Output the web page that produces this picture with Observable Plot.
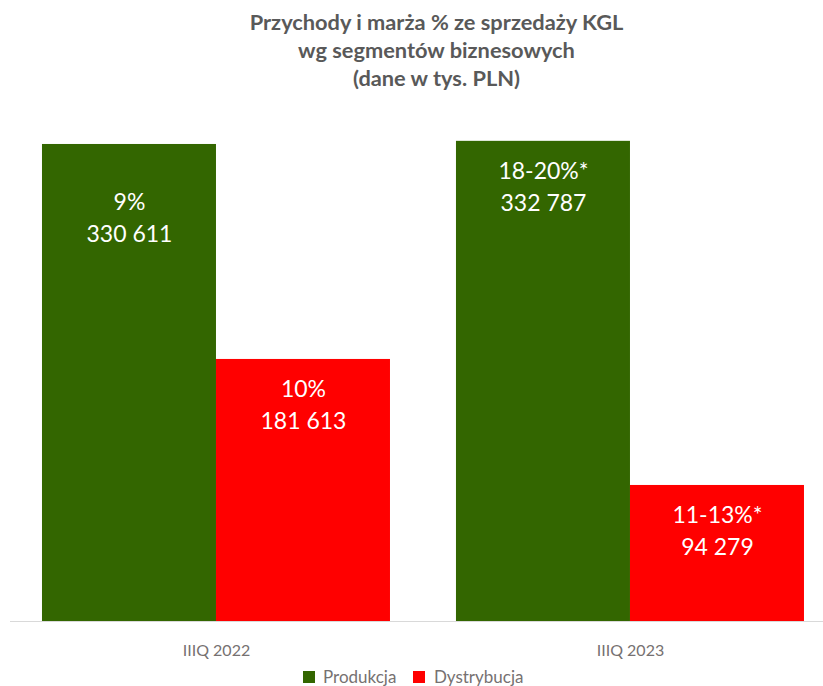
<!DOCTYPE html>
<html><head><meta charset="utf-8">
<script src="https://cdn.jsdelivr.net/npm/d3@7"></script>
<script src="https://cdn.jsdelivr.net/npm/@observablehq/plot@0.6"></script>
<style>
body{margin:0;background:#fff;font-family:Lato,sans-serif;width:823px;overflow:hidden;}
#title{height:100px;box-sizing:border-box;padding-top:8px;padding-left:50px;text-align:center;font-weight:bold;font-size:21.8px;line-height:28px;color:#595959;}
#chart svg{display:block;}
#legend{display:flex;justify-content:center;padding-left:20px;margin-top:-6px;}
</style></head><body>
<div id="title">Przychody i marża % ze sprzedaży KGL<br>wg segmentów biznesowych<br>(dane w tys. PLN)</div>
<div id="chart"></div>
<div id="legend"></div>
<script>
const quarters = ["IIIQ 2022", "IIIQ 2023"];
const segments = ["Produkcja", "Dystrybucja"];
const produkcja = [330611, 332787];
const dystrybucja = [181613, 94279];
const marzaProdukcja = ["9%", "18-20%*"];
const marzaDystrybucja = ["10%", "11-13%*"];
const colors = ["#336600", "#ff0000"];

const data = quarters.flatMap((q, i) => [
  {quarter: q, segment: segments[0], value: produkcja[i], margin: marzaProdukcja[i]},
  {quarter: q, segment: segments[1], value: dystrybucja[i], margin: marzaDystrybucja[i]}
]);

const fmt = d3.formatLocale({decimal: ",", thousands: " ", grouping: [3], currency: ["", " PLN"]}).format(",d");
const label = d => d.margin + "\n" + fmt(d.value);
const isFirst = d => d.quarter === quarters[0] && d.segment === segments[0];

const W = 823, ML = 10;
const textOpts = {fx: "quarter", x: "segment", y: "value", text: label, lineAnchor: "top",
  fill: "white", fontSize: 23, lineHeight: 1.39, fontFamily: "Lato"};

const plot = Plot.plot({
  width: W, height: 566,
  marginTop: 16, marginBottom: 45, marginLeft: ML, marginRight: 0,
  style: {fontFamily: "Lato", fontSize: "16px", color: "#767171", background: "white"},
  fx: {domain: quarters, paddingInner: 0.1594, paddingOuter: 0.0616, align: 0.627, round: false, label: null},
  x: {domain: segments, axis: null, padding: 0, round: false},
  y: {domain: [0, 350000], axis: null},
  color: {domain: segments, range: colors},
  marks: [
    Plot.barY(data, {fx: "quarter", x: "segment", y: "value", fill: "segment"}),
    Plot.text(data.filter(d => !isFirst(d)), {...textOpts, dy: 15}),
    Plot.text(data.filter(isFirst), {...textOpts, dy: 43}),
    Plot.axisFx({anchor: "bottom", tickSize: 0, tickPadding: 23, fontSize: 16, label: null})
  ]
});
document.getElementById("chart").appendChild(plot);

const y0 = plot.scale("y").apply(0);
d3.select(plot).append("line")
  .attr("x1", ML).attr("x2", W)
  .attr("y1", y0 + 0.5).attr("y2", y0 + 0.5)
  .attr("stroke", "#d9d9d9").attr("stroke-width", 1.2);

const leg = plot.legend("color", {swatchSize: 12, style: {fontSize: "17px", color: "#767171", fontFamily: "Lato"}});
document.getElementById("legend").appendChild(leg);
</script>
</body></html>
